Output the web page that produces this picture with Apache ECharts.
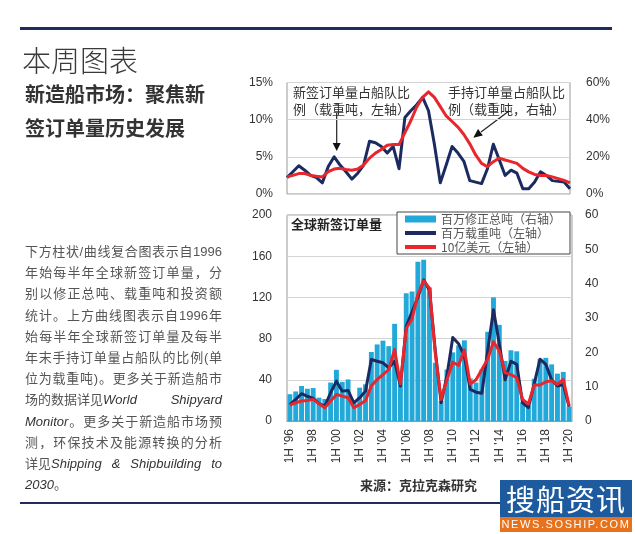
<!DOCTYPE html>
<html>
<head>
<meta charset="utf-8">
<script src="https://cdn.jsdelivr.net/npm/echarts@6/dist/echarts.min.js"></script>
<style>
  html, body { margin: 0; padding: 0; background: #fff; }
  .page { position: relative; width: 635px; height: 534px; overflow: hidden; font-family: "Liberation Sans", "Noto Sans CJK SC", sans-serif; }
  #chart { position: absolute; left: 0; top: 0; width: 635px; height: 534px; }
  .abs { position: absolute; }
  .rule { background: #1f2d5c; }
  .title { left: 22px; top: 44px; font-size: 29px; line-height: 30px; font-weight: 300; color: #3a3a3a; font-family: "Noto Sans CJK SC", sans-serif; }
  .sub { left: 25px; font-size: 20px; line-height: 24px; font-weight: 700; color: #333; font-family: "Noto Sans CJK SC", sans-serif; }
  .para { left: 25px; top: 241px; width: 197px; font-size: 13px; line-height: 21.2px; color: #555; }
  .para div { text-align: justify; text-align-last: justify; white-space: nowrap; }
  .para div.last { text-align-last: left; }
  .para div.flex { display: flex; justify-content: space-between; }
  .para i { color: #333; }
  .source { left: 360px; top: 475px; font-size: 13px; font-weight: 700; color: #333; font-family: "Noto Sans CJK SC", sans-serif; }
  .logo1 { left: 500px; top: 480px; width: 132px; height: 37px; background: #1d5b9e; color: #fff; font-size: 29px; line-height: 37px; text-align: center; letter-spacing: 1px; font-family: "Noto Sans CJK SC", sans-serif; }
  .logo2 { left: 500px; top: 517px; width: 132px; height: 15px; background: #e8711c; color: #fff; font-size: 11px; line-height: 15px; text-align: center; letter-spacing: 1.6px; }
</style>
</head>
<body>
<div class="page">
  <div id="chart"></div>
  <div class="abs rule" style="left:20px;top:27px;width:592px;height:3px;"></div>
  <div class="abs title">本周图表</div>
  <div class="abs sub" style="top:82px;">新造船市场：聚焦新</div>
  <div class="abs sub" style="top:116px;">签订单量历史发展</div>
  <div class="abs para">
    <div>下方柱状/曲线复合图表示自1996</div>
    <div>年始每半年全球新签订单量，分</div>
    <div>别以修正总吨、载重吨和投资额</div>
    <div>统计。上方曲线图表示自1996年</div>
    <div>始每半年全球新签订单量及每半</div>
    <div>年末手持订单量占船队的比例(单</div>
    <div>位为载重吨)。更多关于新造船市</div>
    <div class="flex"><span>场的数据详见<i>World</i></span><i>Shipyard</i></div>
    <div><i>Monitor</i>。更多关于新造船市场预</div>
    <div>测，环保技术及能源转换的分析</div>
    <div class="flex"><span>详见<i>Shipping</i></span><i>&amp;</i><i>Shipbuilding</i><i>to</i></div>
    <div class="last"><i>2030</i>。</div>
  </div>
  <div class="abs rule" style="left:20px;top:502px;width:480px;height:2px;"></div>
  <div class="abs source">来源：克拉克森研究</div>
  <div class="abs logo1">搜船资讯</div>
  <div class="abs logo2">NEWS.SOSHIP.COM</div>
</div>
<script>
// 半年度类目 1H'96 - 1H'20
const categories = [
  "1H '96", "2H '96", "1H '97", "2H '97", "1H '98", "2H '98", "1H '99", "2H '99",
  "1H '00", "2H '00", "1H '01", "2H '01", "1H '02", "2H '02", "1H '03", "2H '03",
  "1H '04", "2H '04", "1H '05", "2H '05", "1H '06", "2H '06", "1H '07", "2H '07",
  "1H '08", "2H '08", "1H '09", "2H '09", "1H '10", "2H '10", "1H '11", "2H '11",
  "1H '12", "2H '12", "1H '13", "2H '13", "1H '14", "2H '14", "1H '15", "2H '15",
  "1H '16", "2H '16", "1H '17", "2H '17", "1H '18", "2H '18", "1H '19", "2H '19",
  "1H '20"
];

// 上图：新签订单量占船队比例（载重吨，左轴 %）
const newOrderShare = [
  2.2, 3.0, 3.8, 3.2, 2.5, 2.2, 1.5, 3.7, 5.0, 3.9,
  3.0, 2.0, 2.8, 3.9, 7.1, 6.9, 6.4, 5.5, 6.4, 3.4,
  10.3, 11.2, 12.0, 13.0, 11.2, 6.7, 1.5, 3.9, 6.4, 5.5,
  4.4, 1.8, 1.6, 1.4, 3.4, 6.7, 4.6, 2.5, 3.2, 2.8,
  0.7, 0.7, 1.6, 3.0, 2.5, 1.8, 1.7, 1.6, 0.7
];
// 上图：手持订单量占船队比例（载重吨，右轴 %）
const orderbookShare = [
  9.2, 10, 11, 11, 10, 9.5, 9.2, 12, 13.4, 13.8,
  13.2, 12.8, 13.4, 15.6, 19.3, 22, 23.9, 26.2, 26.6, 26.6,
  33, 39.4, 46.8, 52, 55, 52, 47, 42, 39, 36,
  32, 27, 21, 16.5, 14.7, 17.4, 19.3, 18.3, 17.4, 16.5,
  13.8, 11.9, 10.5, 10, 10, 9.2, 8.3, 7.3, 6
];

// 下图：百万修正总吨（右轴）
const cgtOrders = [
  7.8, 8.6, 10.2, 9.4, 9.6, 6.8, 6.4, 11.2, 14.9, 11.4,
  12.1, 5.3, 9.7, 10.7, 20.1, 22.3, 23.4, 21.8, 28.3, 11.5,
  37.2, 37.7, 46.4, 47.0, 38.9, 17, 5.8, 15, 20, 22,
  23.5, 12.4, 11.2, 15, 26, 36, 28, 17.5, 20.6, 20.3,
  5.5, 4.5, 12.3, 18, 18.4, 16.5, 13.8, 14.3, 4.2
];
// 下图：百万载重吨（左轴）
const dwtOrders = [
  16, 21, 26.5, 24, 22, 16.8, 14.5, 27.4, 38.7, 29,
  29.7, 17.7, 22.6, 29, 59.7, 58, 56.5, 51.6, 58, 34,
  92, 106, 120, 137, 127, 68, 17.7, 44, 81, 75,
  63, 30.6, 28, 27, 68, 108, 75, 40, 58, 55,
  17.7, 13, 36, 60, 55, 40, 34, 35.5, 14
];
// 下图：10亿美元（左轴）
const usdOrders = [
  15.5, 17.7, 19.4, 20, 21, 16.8, 12.9, 19.4, 25.8, 24.2,
  22.6, 12.9, 16.1, 20, 33.9, 40.3, 45, 50, 69.4, 36,
  90, 99, 123, 136, 129, 65, 21, 40, 57, 54,
  69, 36, 40, 50, 60, 77, 68, 47, 45, 42,
  21, 16.5, 35, 35, 38, 39, 35.5, 40.3, 15
];

const NAVY = '#1b2b62';
const RED = '#e8262b';
const CYAN = '#22a9d9';
const labelStyle = { fontSize: 12, color: '#333', fontFamily: 'Liberation Sans' };
const lineIcon = 'path://M0,0H31V4H0Z';

const chart = echarts.init(document.getElementById('chart'));

chart.setOption({
  animation: false,
  grid: [
    { left: 287, top: 82.5, width: 283, height: 111.5, show: true, borderColor: '#999', borderWidth: 1 },
    { left: 287, top: 215, width: 285, height: 206, show: true, borderColor: '#999', borderWidth: 1 }
  ],
  legend: {
    left: 397, top: 212, orient: 'vertical',
    itemWidth: 31, itemHeight: 7, itemGap: 0,
    padding: [0, 9, 0, 8],
    borderColor: '#444', borderWidth: 1, backgroundColor: '#fff',
    textStyle: { fontSize: 12, color: '#555', lineHeight: 14, fontFamily: 'Noto Sans CJK SC' },
    data: [
      { name: '百万修正总吨（右轴）', icon: 'rect' },
      { name: '百万载重吨（左轴）', icon: lineIcon },
      { name: '10亿美元（左轴）', icon: lineIcon }
    ]
  },
  xAxis: [
    {
      gridIndex: 0, type: 'category', boundaryGap: false, data: categories,
      axisLine: { show: false }, axisTick: { show: false }, axisLabel: { show: false }
    },
    {
      gridIndex: 1, type: 'category', data: categories,
      axisLine: { show: true, lineStyle: { color: '#999' } },
      axisTick: { show: false },
      axisLabel: Object.assign({ rotate: 90, interval: 3, margin: 8 }, labelStyle)
    }
  ],
  yAxis: [
    {
      gridIndex: 0, min: 0, max: 15, interval: 5,
      axisLabel: Object.assign({ formatter: '{value}%', margin: 14 }, labelStyle),
      splitLine: { lineStyle: { color: '#d4d4d4' } }
    },
    {
      gridIndex: 0, position: 'right', min: 0, max: 60, interval: 20,
      axisLabel: Object.assign({ formatter: '{value}%', margin: 16 }, labelStyle),
      splitLine: { show: false }
    },
    {
      gridIndex: 1, min: 0, max: 200, interval: 40,
      axisLabel: Object.assign({ margin: 15 }, labelStyle),
      splitLine: { lineStyle: { color: '#d4d4d4' } }
    },
    {
      gridIndex: 1, position: 'right', min: 0, max: 60, interval: 10,
      axisLabel: Object.assign({ margin: 13 }, labelStyle),
      splitLine: { show: false }
    }
  ],
  series: [
    {
      name: '新签订单量占船队比例', type: 'line', xAxisIndex: 0, yAxisIndex: 0,
      data: newOrderShare, symbol: 'none',
      lineStyle: { color: NAVY, width: 3, join: 'round' }
    },
    {
      name: '手持订单量占船队比例', type: 'line', xAxisIndex: 0, yAxisIndex: 1,
      data: orderbookShare, symbol: 'none',
      lineStyle: { color: RED, width: 3, join: 'round' }
    },
    {
      name: '百万修正总吨（右轴）', type: 'bar', xAxisIndex: 1, yAxisIndex: 3,
      data: cgtOrders, barCategoryGap: '16%',
      itemStyle: { color: CYAN }
    },
    {
      name: '百万载重吨（左轴）', type: 'line', xAxisIndex: 1, yAxisIndex: 2,
      data: dwtOrders, symbol: 'none', itemStyle: { color: NAVY },
      lineStyle: { color: NAVY, width: 3, join: 'round' }
    },
    {
      name: '10亿美元（左轴）', type: 'line', xAxisIndex: 1, yAxisIndex: 2,
      data: usdOrders, symbol: 'none', itemStyle: { color: RED },
      lineStyle: { color: RED, width: 3, join: 'round' }
    }
  ],
  graphic: [
    // 上图注释
    { type: 'text', left: 293, top: 84, style: { text: '新签订单量占船队比\n例（载重吨，左轴）', fontSize: 13, lineHeight: 17, fill: '#333', fontFamily: 'Noto Sans CJK SC' } },
    { type: 'text', left: 448, top: 84, style: { text: '手持订单量占船队比\n例（载重吨，右轴）', fontSize: 13, lineHeight: 17, fill: '#333', fontFamily: 'Noto Sans CJK SC' } },
    { type: 'line', shape: { x1: 336.7, y1: 113, x2: 336.7, y2: 144 }, style: { stroke: '#222', lineWidth: 1.2 } },
    { type: 'polygon', shape: { points: [[332.7, 143], [340.7, 143], [336.7, 151]] }, style: { fill: '#111' } },
    { type: 'line', shape: { x1: 509, y1: 111, x2: 481, y2: 132 }, style: { stroke: '#222', lineWidth: 1.2 } },
    { type: 'polygon', shape: { points: [[473.3, 137.7], [478, 129], [482.8, 135.4]] }, style: { fill: '#111' } },
    // 下图标题
    { type: 'text', left: 291, top: 218, style: { text: '全球新签订单量', fontSize: 13, fontWeight: 'bold', fill: '#222', fontFamily: 'Noto Sans CJK SC' } }
  ]
});
</script>
</body>
</html>
